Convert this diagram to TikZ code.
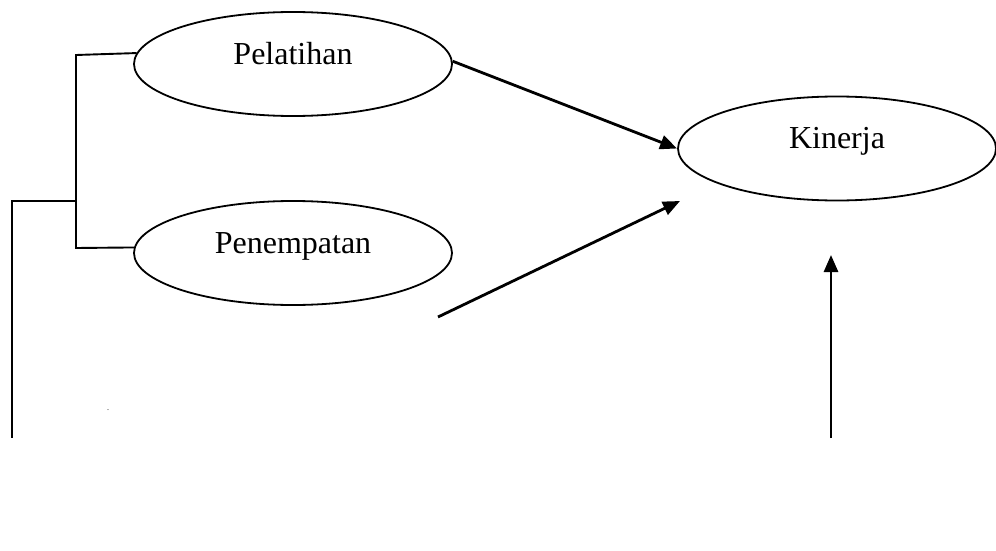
\documentclass[tikz,border=0pt]{standalone}
\usepackage{fontspec}
\setmainfont{Liberation Serif}
\usetikzlibrary{shapes.geometric,arrows.meta}
\begin{document}
\begin{tikzpicture}[x=1pt,y=-1pt,
  ell/.style={ellipse, draw, line width=1.8pt, minimum width=318pt, minimum height=104pt,
    inner sep=0pt, text height=0pt, text depth=0pt, font=\fontsize{32}{38}\selectfont},
  link/.style={line width=1.9pt},
  arr/.style={line width=2.8pt, -{Triangle[length=17pt,width=14pt]}}]
\useasboundingbox (0,0) rectangle (996,551);
\node[ell] (pel) at (293,64) {Pelatihan};
\node[ell] (pen) at (293,253) {Penempatan};
\node[ell] (kin) at (837,148.5) {Kinerja};
\coordinate (bt) at (76,55);
\coordinate (bm) at (76,201);
\coordinate (bb) at (76,248);
\coordinate (lt) at (12,201);
\coordinate (lb) at (12,438);
\coordinate (a2s) at (438,317);
\coordinate (a2e) at (680,201);
\coordinate (a3s) at (831,438);
\coordinate (a3e) at (831,255);
\draw[link] (pel.176.7) -- (bt) -- (bb) -- (pen.178);
\draw[link] (bm) -- (lt) -- (lb);
\draw[arr] (pel.1) -- (kin.west);
\draw[arr] (a2s) -- (a2e);
\draw[arr] (a3s) -- (a3e);
\node[inner sep=0pt, font=\fontsize{8}{8}\selectfont] (dot) at (108,410) {.};
\end{tikzpicture}
\end{document}
